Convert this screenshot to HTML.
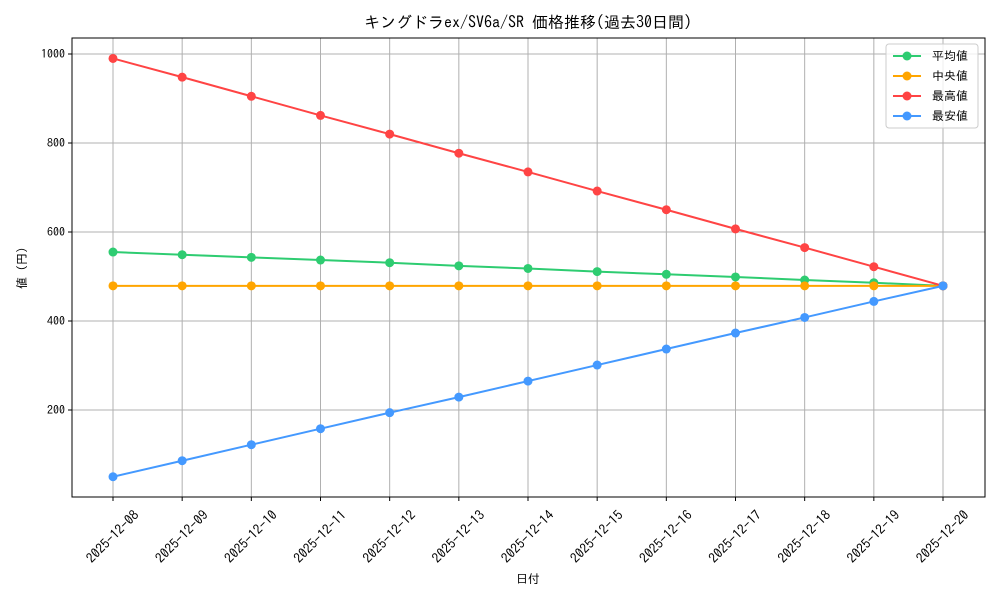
<!DOCTYPE html>
<html><head><meta charset="utf-8"><style>
body{margin:0;background:#fff;}
svg text{font-family:"IPAGothic","Noto Sans CJK JP",sans-serif;fill:#000;}
</style></head><body>
<svg id="chart" width="1000" height="600" xmlns="http://www.w3.org/2000/svg"></svg>
<script>
const categories=["2025-12-08","2025-12-09","2025-12-10","2025-12-11","2025-12-12","2025-12-13","2025-12-14","2025-12-15","2025-12-16","2025-12-17","2025-12-18","2025-12-19","2025-12-20"];
const meanValues=[555,549,543,537,531,524,518,511,505,499,492,486,479];
const medianValues=[479,479,479,479,479,479,479,479,479,479,479,479,479];
const maxValues=[990,948,905,862,820,777,735,692,650,607,565,522,479];
const minValues=[50,86,122,158,194,229,265,301,337,373,408,444,479];
const yTicks=[200,400,600,800,1000];
const seriesNames=["平均値","中央値","最高値","最安値"];
const seriesColors=["#2ecc71","#ffa500","#ff4444","#4499ff"];

const svg=document.getElementById('chart');
const NS="http://www.w3.org/2000/svg";
const L=72,R=985,T=38,B=497;
const x0=113,x1=943;
function xs(i){return x0+(x1-x0)*i/(categories.length-1);}
function ys(v){return 499-v*0.445;}
function mk(tag,attrs,parent){const e=document.createElementNS(NS,tag);for(const k in attrs)e.setAttribute(k,attrs[k]);(parent||svg).appendChild(e);return e;}

categories.forEach((c,i)=>{
  const g=mk('line',{x1:xs(i),x2:xs(i),y1:T,y2:B,stroke:'#b0b0b0','stroke-width':1});
  
  
  mk('line',{x1:xs(i),x2:xs(i),y1:B,y2:B+4,stroke:'#000'});
  const t=mk('text',{x:0,y:4,'font-size':13.5,'text-anchor':'middle',transform:`translate(${xs(i)},${B+40}) rotate(-45)`});
  t.textContent=c;
  
  
});
yTicks.forEach(v=>{
  const g=mk('line',{x1:L,x2:R,y1:ys(v),y2:ys(v),stroke:'#b0b0b0','stroke-width':1});
  
  
  mk('line',{x1:L-4,x2:L,y1:ys(v),y2:ys(v),stroke:'#000'});
  const t=mk('text',{x:L-7,y:ys(v)+4,'font-size':12,'text-anchor':'end'});
  t.textContent=v;
  
  
});
const frame=mk('rect',{x:L,y:T,width:R-L,height:B-T,fill:'none',stroke:'#000','stroke-width':1});



const allSeries=[meanValues,medianValues,maxValues,minValues];
const snames=['mean-series','median-series','max-series','min-series'];
allSeries.forEach((vals,s)=>{
  const g=mk('g',{});
  
  
  const pts=vals.map((v,i)=>xs(i)+','+ys(v)).join(' ');
  mk('polyline',{points:pts,fill:'none',stroke:seriesColors[s],'stroke-width':2},g);
  vals.forEach((v,i)=>{
    const c=mk('circle',{cx:xs(i),cy:ys(v),r:4.5,fill:seriesColors[s]},g);
    
    
  });
});

const lg=mk('g',{});


mk('rect',{x:886,y:44,width:92,height:84,rx:3,fill:'#fff','fill-opacity':0.8,stroke:'#ccc'},lg);
seriesNames.forEach((n,s)=>{
  const y=56+s*20;
  const e=mk('g',{},lg);
  
  
  mk('line',{x1:893,x2:921,y1:y,y2:y,stroke:seriesColors[s],'stroke-width':2},e);
  mk('circle',{cx:907,cy:y,r:4.5,fill:seriesColors[s]},e);
  const t=mk('text',{x:932,y:y+4,'font-size':12},e);
  t.textContent=n;
});

const title=mk('text',{x:528,y:28,'font-size':16,'text-anchor':'middle'});
title.textContent='キングドラex/SV6a/SR 価格推移(過去30日間)';


const xt=mk('text',{x:528,y:583,'font-size':12,'text-anchor':'middle'});
xt.textContent='日付';


const yt=mk('text',{x:0,y:0,'font-size':12,'text-anchor':'middle',transform:'translate(26,268) rotate(-90)'});
yt.textContent='値 (円)';


</script>
</body></html>
